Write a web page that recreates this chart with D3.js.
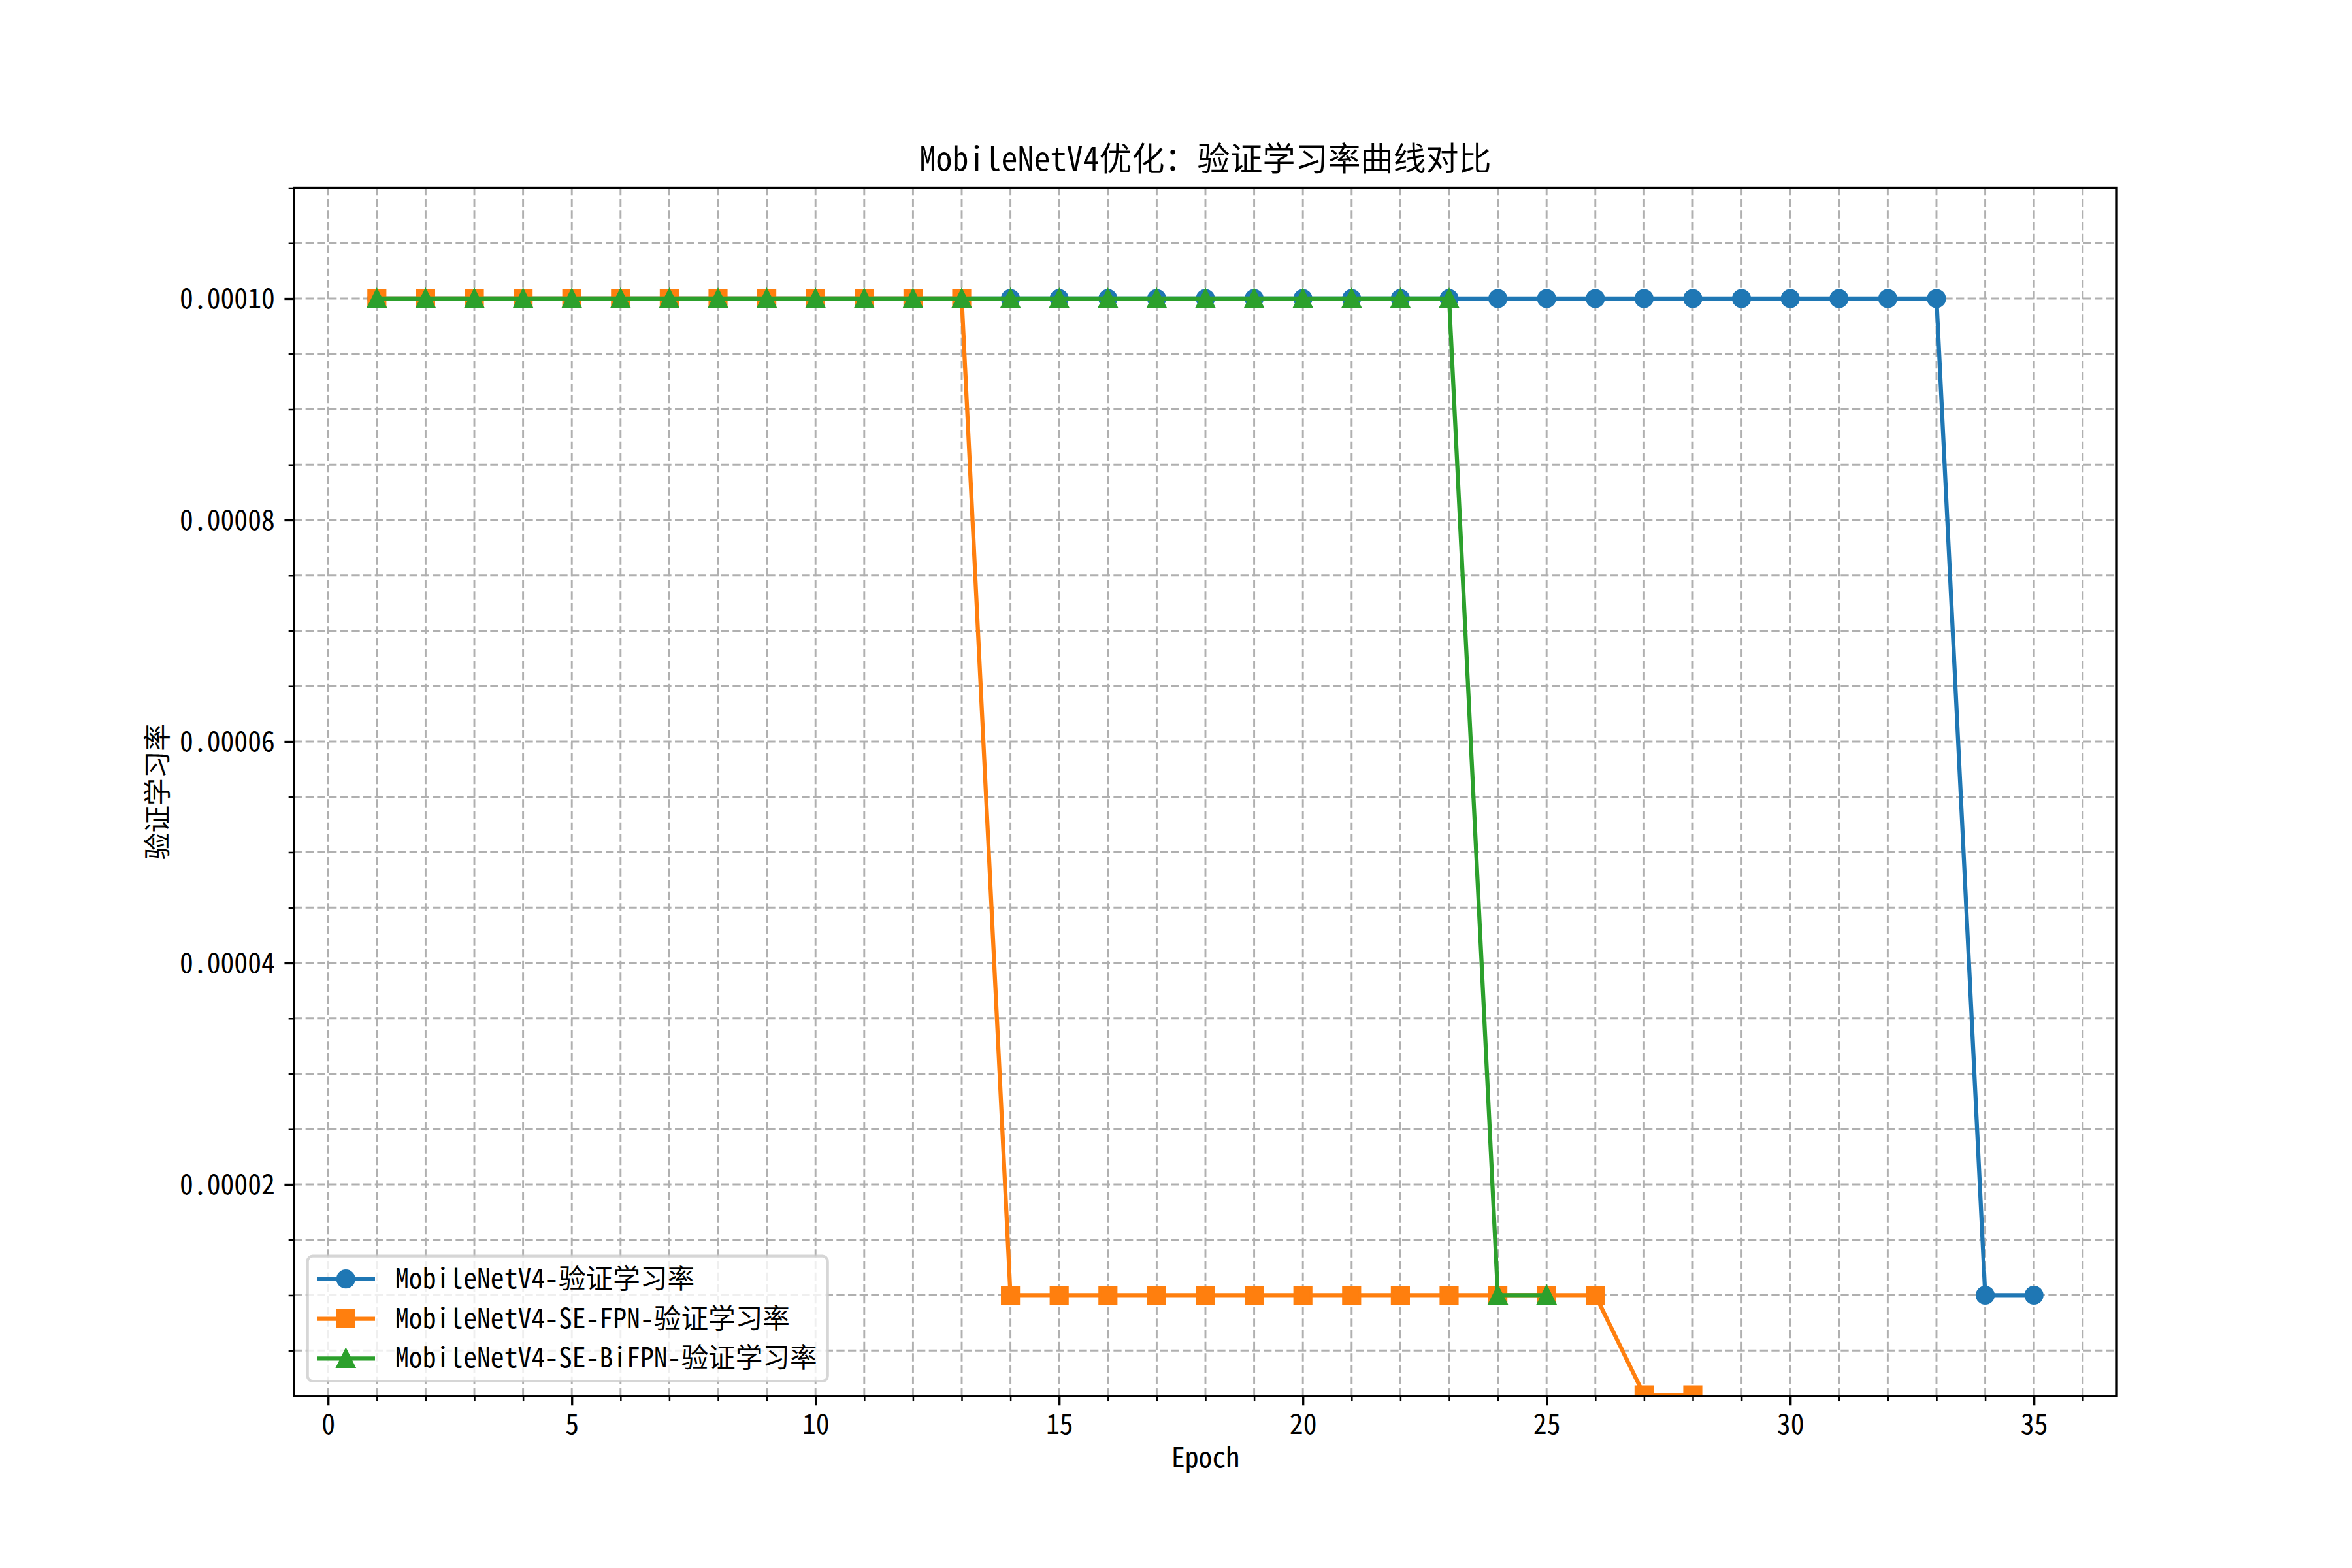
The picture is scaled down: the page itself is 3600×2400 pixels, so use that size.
<!DOCTYPE html>
<html>
<head>
<meta charset="utf-8">
<script src="https://cdn.jsdelivr.net/npm/d3@7"></script>
<style>
  html, body { margin: 0; padding: 0; background: #fff; }
  svg { display: block; }
</style>
</head>
<body>
<svg id="chart" width="3600" height="2400"></svg>
<script>
// ---------------- DATA ----------------
const chartTitle = "MobileNetV4优化：验证学习率曲线对比";
const xLabel = "Epoch";
const yLabel = "验证学习率";
const seriesNames = ["MobileNetV4-验证学习率", "MobileNetV4-SE-FPN-验证学习率", "MobileNetV4-SE-BiFPN-验证学习率"];
const seriesColors = ["#1f77b4", "#ff7f0e", "#2ca02c"];
const seriesMarkers = ["circle", "square", "triangle"];

const epochsBase = [1,2,3,4,5,6,7,8,9,10,11,12,13,14,15,16,17,18,19,20,21,22,23,24,25,26,27,28,29,30,31,32,33,34,35];
const lrBase = [1e-4,1e-4,1e-4,1e-4,1e-4,1e-4,1e-4,1e-4,1e-4,1e-4,1e-4,1e-4,1e-4,1e-4,1e-4,1e-4,1e-4,1e-4,1e-4,1e-4,1e-4,1e-4,1e-4,1e-4,1e-4,1e-4,1e-4,1e-4,1e-4,1e-4,1e-4,1e-4,1e-4,1e-5,1e-5];

const epochsSEFPN = [1,2,3,4,5,6,7,8,9,10,11,12,13,14,15,16,17,18,19,20,21,22,23,24,25,26,27,28];
const lrSEFPN = [1e-4,1e-4,1e-4,1e-4,1e-4,1e-4,1e-4,1e-4,1e-4,1e-4,1e-4,1e-4,1e-4,1e-5,1e-5,1e-5,1e-5,1e-5,1e-5,1e-5,1e-5,1e-5,1e-5,1e-5,1e-5,1e-5,1e-6,1e-6];

const epochsSEBiFPN = [1,2,3,4,5,6,7,8,9,10,11,12,13,14,15,16,17,18,19,20,21,22,23,24,25];
const lrSEBiFPN = [1e-4,1e-4,1e-4,1e-4,1e-4,1e-4,1e-4,1e-4,1e-4,1e-4,1e-4,1e-4,1e-4,1e-4,1e-4,1e-4,1e-4,1e-4,1e-4,1e-4,1e-4,1e-4,1e-4,1e-5,1e-5];

const xMajorTicks = [0,5,10,15,20,25,30,35];
const xMinorTicks = [0,1,2,3,4,5,6,7,8,9,10,11,12,13,14,15,16,17,18,19,20,21,22,23,24,25,26,27,28,29,30,31,32,33,34,35,36];
const yMajorTicks = [0.00002,0.00004,0.00006,0.00008,0.00010];
const yMinorTicks = [0.000005,0.00001,0.000015,0.00002,0.000025,0.00003,0.000035,0.00004,0.000045,0.00005,0.000055,0.00006,0.000065,0.00007,0.000075,0.00008,0.000085,0.00009,0.000095,0.0001,0.000105,0.00011];
const xDomain = [-0.7, 36.7];
const yDomain = [0.0000009, 0.00011];

// ---------------- LAYOUT ----------------
const FONT = '"Noto Sans Mono CJK SC", "Noto Sans CJK SC", "DejaVu Sans", sans-serif';
const plot = { left: 450, right: 3240, top: 287.5, bottom: 2136.7 };
const PT = 300 / 72;

const svg = d3.select("#chart");
const x = d3.scaleLinear().domain(xDomain).range([plot.left, plot.right]);
const y = d3.scaleLinear().domain(yDomain).range([plot.bottom, plot.top]);

svg.append("defs").append("clipPath").attr("id", "clip")
  .append("rect").attr("x", plot.left).attr("y", plot.top)
  .attr("width", plot.right - plot.left).attr("height", plot.bottom - plot.top);

// grid
const grid = svg.append("g").attr("stroke", "#b0b0b0").attr("stroke-width", 0.7 * PT)
  .attr("stroke-dasharray", `${3.7 * 0.8 * PT},${1.6 * 0.8 * PT}`).attr("fill", "none");
grid.selectAll("line.vx").data(xMinorTicks).join("line")
  .attr("x1", d => x(d)).attr("x2", d => x(d))
  .attr("y1", plot.bottom).attr("y2", plot.top);
grid.selectAll("line.hy").data(yMinorTicks).join("line")
  .attr("x1", plot.left).attr("x2", plot.right)
  .attr("y1", d => y(d)).attr("y2", d => y(d));

// marker paths
function markerPath(type, s) {
  const h = s / 2;
  if (type === "circle") {
    return `M${h},0A${h},${h} 0 1,1 ${-h},0A${h},${h} 0 1,1 ${h},0Z`;
  } else if (type === "square") {
    return `M${-h},${-h}L${h},${-h}L${h},${h}L${-h},${h}Z`;
  } else {
    return `M0,${-h}L${h},${h}L${-h},${h}Z`;
  }
}
const MS = 6 * PT;

const seriesData = [
  { xs: epochsBase, ys: lrBase },
  { xs: epochsSEFPN, ys: lrSEFPN },
  { xs: epochsSEBiFPN, ys: lrSEBiFPN }
];

const plotG = svg.append("g").attr("clip-path", "url(#clip)");
const line = d3.line().x(d => x(d[0])).y(d => y(d[1]));
seriesData.forEach((s, i) => {
  const pts = s.xs.map((e, k) => [e, s.ys[k]]);
  const g = plotG.append("g");
  g.append("path").datum(pts).attr("d", line)
    .attr("fill", "none").attr("stroke", seriesColors[i])
    .attr("stroke-width", 1.5 * PT).attr("stroke-linejoin", "round").attr("stroke-linecap", "square");
  g.selectAll("path.m").data(pts).join("path")
    .attr("class", "m")
    .attr("transform", d => `translate(${x(d[0])},${y(d[1])})`)
    .attr("d", markerPath(seriesMarkers[i], MS))
    .attr("fill", seriesColors[i]).attr("stroke", seriesColors[i]).attr("stroke-width", 1 * PT);
});

// axes ticks via d3 axes
const xAxisMajor = d3.axisBottom(x).tickValues(xMajorTicks).tickSize(3.5 * PT).tickPadding(3.5 * PT).tickFormat(d3.format("d"));
const xAxisMinor = d3.axisBottom(x).tickValues(xMinorTicks.filter(v => !xMajorTicks.includes(v))).tickSize(2 * PT).tickFormat("");
const yAxisMajor = d3.axisLeft(y).tickValues(yMajorTicks).tickSize(3.5 * PT).tickPadding(3.5 * PT).tickFormat(d3.format(".5f"));
const yAxisMinor = d3.axisLeft(y).tickValues(yMinorTicks.filter(v => !yMajorTicks.some(m => Math.abs(m - v) < 1e-12))).tickSize(2 * PT).tickFormat("");

function styleAxis(g, w) {
  g.select(".domain").remove();
  g.selectAll(".tick line").attr("stroke", "#000").attr("stroke-width", w);
  g.selectAll(".tick text").attr("fill", "#000").style("font-family", FONT).style("font-size", (10 * PT) + "px");
}
svg.append("g").attr("transform", `translate(0,${plot.bottom})`).call(xAxisMinor).call(g => styleAxis(g, 0.6 * PT));
const gx = svg.append("g").attr("transform", `translate(0,${plot.bottom})`).call(xAxisMajor).call(g => styleAxis(g, 0.8 * PT));
gx.selectAll(".tick text").attr("dy", null).attr("y", 3.5 * PT + 3.5 * PT + 29);
svg.append("g").attr("transform", `translate(${plot.left},0)`).call(yAxisMinor).call(g => styleAxis(g, 0.6 * PT));
const gy = svg.append("g").attr("transform", `translate(${plot.left},0)`).call(yAxisMajor).call(g => styleAxis(g, 0.8 * PT));
gy.selectAll(".tick text").attr("dy", null).attr("y", 14.5);

// spines
svg.append("rect").attr("x", plot.left).attr("y", plot.top)
  .attr("width", plot.right - plot.left).attr("height", plot.bottom - plot.top)
  .attr("fill", "none").attr("stroke", "#000").attr("stroke-width", 0.8 * PT);

// title and labels
svg.append("text").attr("x", (plot.left + plot.right) / 2).attr("y", 261)
  .attr("text-anchor", "middle").style("font-family", FONT).style("font-size", (12 * PT) + "px")
  .text(chartTitle);
svg.append("text").attr("x", (plot.left + plot.right) / 2).attr("y", 2246)
  .attr("text-anchor", "middle").style("font-family", FONT).style("font-size", (10 * PT) + "px")
  .text(xLabel);
svg.append("text").attr("transform", `translate(238,${(plot.top + plot.bottom) / 2}) rotate(-90)`)
  .attr("text-anchor", "middle").attr("dominant-baseline", "central")
  .style("font-family", FONT).style("font-size", (10 * PT) + "px")
  .text(yLabel);

// legend
const leg = svg.append("g");
leg.append("rect").attr("x", 470.7).attr("y", 1922.7).attr("width", 796).attr("height", 191.3)
  .attr("rx", 8).attr("ry", 8)
  .attr("fill", "#fff").attr("fill-opacity", 0.8)
  .attr("stroke", "#cccccc").attr("stroke-opacity", 0.8).attr("stroke-width", 1 * PT);
const rowY = [1957.7, 2018.5, 2079.3];
seriesNames.forEach((name, i) => {
  const ry = rowY[i];
  leg.append("line").attr("x1", 485).attr("x2", 574).attr("y1", ry).attr("y2", ry)
    .attr("stroke", seriesColors[i]).attr("stroke-width", 1.5 * PT);
  leg.append("path").attr("transform", `translate(529.3,${ry})`)
    .attr("d", markerPath(seriesMarkers[i], MS))
    .attr("fill", seriesColors[i]).attr("stroke", seriesColors[i]).attr("stroke-width", 1 * PT);
  leg.append("text").attr("x", 605).attr("y", ry + 14)
    .style("font-family", FONT).style("font-size", (10 * PT) + "px")
    .text(name);
});
</script>
</body>
</html>
